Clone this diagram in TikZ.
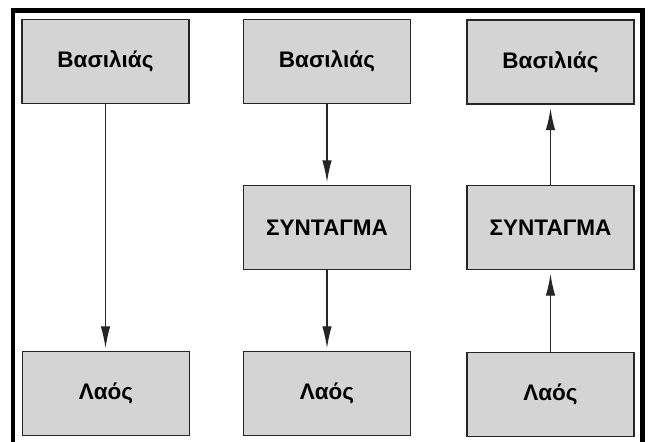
\documentclass[tikz,border=0pt]{standalone}
\usepackage{fontspec}
\setmainfont{Liberation Sans}
\usetikzlibrary{arrows.meta}
\tikzset{
  box/.style={draw=black!85, line width=1.4pt, fill=black!17, minimum width=167pt, minimum height=84pt, inner sep=0pt, font=\fontsize{22.5}{24}\selectfont\bfseries},
  arr/.style={draw=black!85, line width=1.3pt, -{Latex[length=22pt,width=9.5pt]}},
}
\begin{document}
\begin{tikzpicture}[x=1pt,y=-1pt]
\useasboundingbox (0,0) rectangle (651,442);
\clip (0,0) rectangle (651,442);
\fill[white] (0,0) rectangle (651,442);
\draw[line width=4.6pt] (13,10.5) rectangle (642.5,450);
% column 1
\node[box] (b1) at (105.5,61.5) {Βασιλιάς};
\node[box] (l1) at (106,393.5) {Λαός};
% column 2
\node[box] (b2) at (327,61.5) {Βασιλιάς};
\node[box] (s2) at (327,227.5) {ΣΥΝΤΑΓΜΑ};
\node[box] (l2) at (327,393.5) {Λαός};
% column 3
\node[box] (b3) at (550.5,62) {Βασιλιάς};
\node[box] (s3) at (550.5,227.5) {ΣΥΝΤΑΓΜΑ};
\node[box] (l3) at (550.5,394.5) {Λαός};
% arrows
\draw[arr, shorten >=2.5pt] (b1.south) -- (b1.south |- l1.north);
\draw[arr, shorten >=2.5pt] (b2.south) -- (s2.north);
\draw[arr, shorten >=2.5pt] (s2.south) -- (l2.north);
\draw[arr, shorten >=3.5pt] (s3.north) -- (b3.south);
\draw[arr, shorten >=3.5pt] (l3.north) -- (s3.south);
\end{tikzpicture}
\end{document}
